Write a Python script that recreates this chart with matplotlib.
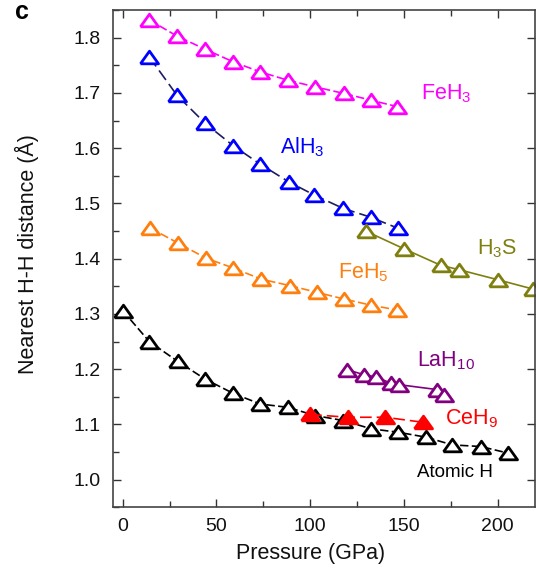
import numpy as np
import matplotlib.pyplot as plt
from matplotlib.ticker import MultipleLocator

plt.rcParams['font.family'] = ['Liberation Sans', 'DejaVu Sans']
plt.rcParams['mathtext.fontset'] = 'custom'
plt.rcParams['mathtext.rm'] = 'Liberation Sans'

# Nearest H-H distance (Angstrom) against pressure (GPa) for each hydride
feh3_p = [14.2, 28.9, 44.0, 59.1, 73.4, 88.0, 102.6, 118.0, 132.3, 146.6]
feh3_d = [1.832, 1.803, 1.779, 1.756, 1.738, 1.723, 1.711, 1.699, 1.687, 1.675]

alh3_p = [14.2, 28.9, 44.0, 59.1, 73.4, 88.6, 102.3, 117.6, 132.3, 146.9]
alh3_d = [1.765, 1.696, 1.645, 1.604, 1.571, 1.539, 1.515, 1.491, 1.475, 1.455]

feh5_p = [14.8, 29.7, 44.4, 59.1, 73.8, 89.5, 103.7, 118.0, 132.3, 146.6]
feh5_d = [1.455, 1.428, 1.401, 1.383, 1.363, 1.351, 1.339, 1.327, 1.316, 1.307]

h3s_p = [129.6, 150.0, 169.7, 179.5, 200.0, 218.9]
h3s_d = [1.450, 1.418, 1.388, 1.380, 1.362, 1.345]

atomic_p = [0.0, 14.2, 29.4, 44.0, 59.1, 73.4, 88.0, 102.8, 117.8, 132.6,
            146.8, 161.7, 175.9, 191.1, 205.7]
atomic_d = [1.306, 1.250, 1.214, 1.182, 1.156, 1.137, 1.131, 1.116, 1.107, 1.092,
            1.086, 1.077, 1.063, 1.060, 1.048]

lah10_p = [119.8, 128.7, 134.9, 142.9, 147.4, 167.9, 171.4]
lah10_d = [1.199, 1.190, 1.186, 1.175, 1.172, 1.163, 1.154]

ceh9_p = [100.0, 120.0, 140.0, 160.0]
ceh9_d = [1.118, 1.113, 1.113, 1.104]

# flattened open triangle
tri = [(-1.0, -0.7), (1.0, -0.7), (0.0, 0.7), (-1.0, -0.7)]

fig = plt.figure(figsize=(5.36, 5.69), dpi=100)
ax = fig.add_axes([0.2114, 0.1084, 0.7868, 0.874])

series = [
    (feh3_p, feh3_d, '#ff00ff', '#ff00ff', (0, (5, 2)), 'white'),
    (alh3_p, alh3_d, '#0000ff', '#1c1c60', (0, (7, 3)), 'white'),
    (feh5_p, feh5_d, '#ff7f0e', '#ff7f0e', (0, (5, 2)), 'white'),
    (h3s_p, h3s_d, '#7f7f10', '#7f7f10', '-', 'white'),
    (atomic_p, atomic_d, 'black', 'black', (0, (5, 2)), 'white'),
    (lah10_p, lah10_d, '#800080', '#800080', '-', 'white'),
    (ceh9_p, ceh9_d, '#ff0000', '#ff0000', (0, (7, 3)), '#ff0000'),
]
for p, d, mc, lc, ls, fc in series:
    ax.plot(p, d, color=lc, linestyle=ls, linewidth=1.2,
            marker=tri, markersize=13, markeredgewidth=2.0,
            markeredgecolor=mc, markerfacecolor=fc)

labels = [
    (159.0, 1.688, 'FeH$_3$', '#ff00ff'),
    (84.1, 1.590, 'AlH$_3$', '#0000ff'),
    (189.3, 1.407, 'H$_3$S', '#7f7f10'),
    (115.1, 1.365, 'FeH$_5$', '#ff7f0e'),
    (157.2, 1.205, 'LaH$_{10}$', '#800080'),
    (171.8, 1.100, 'CeH$_9$', '#ff0000'),
]
for x, y, s, c in labels:
    ax.text(x, y, s, color=c, fontsize=15.5, ha='left', va='baseline')
ax.text(156.8, 1.004, 'Atomic H', color='black', fontsize=13.5, ha='left', va='baseline')

ax.set_xlim(-5, 220)
ax.set_ylim(0.95, 1.85)
ax.xaxis.set_major_locator(MultipleLocator(50))
ax.xaxis.set_minor_locator(MultipleLocator(25))
ax.yaxis.set_major_locator(MultipleLocator(0.1))
ax.yaxis.set_minor_locator(MultipleLocator(0.05))
ax.yaxis.set_major_formatter(plt.FormatStrFormatter('%.1f'))

ax.tick_params(which='both', direction='in', top=True, right=True,
               color='#333333', labelsize=14, labelcolor='#111111')
ax.tick_params(which='major', length=6, width=1.0)
ax.tick_params(which='minor', length=4, width=1.0, right=False)
ax.tick_params(axis='y', pad=9)
ax.tick_params(axis='x', pad=8)
for sp in ax.spines.values():
    sp.set_color('#444444')
    sp.set_linewidth(1.2)

ax.set_xlabel('Pressure (GPa)', fontsize=15.5, color='#111111')
ax.xaxis.set_label_coords(0.468, -0.072)
ax.set_ylabel('Nearest H-H distance (\u00c5)', fontsize=15.5, color='#111111',
              ha='center', va='center')
ax.yaxis.set_label_coords(-0.205, 0.509)

# panel letter
fig.text(22 / 536, 1.0, 'c', fontsize=18, fontweight='bold',
         ha='center', va='top')

fig.savefig('out.png', dpi=100)
